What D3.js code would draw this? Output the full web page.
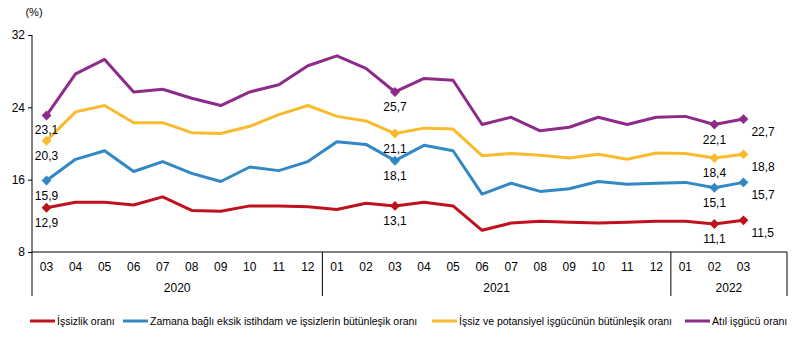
<!DOCTYPE html>
<html><head><meta charset="utf-8">
<script src="https://cdn.jsdelivr.net/npm/d3@7"></script>
<style>body{margin:0;background:#fff}svg{display:block;font-family:"Liberation Sans",Arial,sans-serif}</style>
</head><body>
<svg id="c" width="803" height="342"></svg>
<script>
const months = ["03","04","05","06","07","08","09","10","11","12","01","02","03","04","05","06","07","08","09","10","11","12","01","02","03"];
const years = [{label:"2020", from:0, to:9},{label:"2021", from:10, to:21},{label:"2022", from:22, to:24}];
const yTicks = [8,16,24,32];
const issizlik = [12.9,13.5,13.5,13.2,14.1,12.6,12.5,13.1,13.1,13.0,12.7,13.4,13.1,13.5,13.1,10.4,11.2,11.4,11.3,11.2,11.3,11.4,11.4,11.1,11.5];
const zamana = [15.9,18.25,19.2,16.9,18.0,16.7,15.8,17.4,17.0,18.0,20.2,19.9,18.1,19.8,19.2,14.4,15.6,14.7,15.0,15.8,15.5,15.6,15.7,15.1,15.7];
const potansiyel = [20.3,23.5,24.2,22.3,22.3,21.2,21.1,21.9,23.2,24.2,23.0,22.5,21.1,21.7,21.6,18.65,18.9,18.7,18.4,18.8,18.25,18.95,18.9,18.4,18.8];
const atil = [23.1,27.7,29.3,25.7,26.0,25.0,24.2,25.7,26.5,28.6,29.7,28.3,25.7,27.2,27.0,22.1,22.9,21.4,21.8,22.9,22.1,22.9,23.0,22.1,22.7];
const seriesNames = ["İşsizlik oranı","Zamana bağlı eksik istihdam ve işsizlerin bütünleşik oranı","İşsiz ve potansiyel işgücünün bütünleşik oranı","Atıl işgücü oranı"];
const seriesColors = ["#C0121C","#3288C4","#F8BB2E","#8E2A8A"];
const markedIdx = [0,12,23,24];

const series = [issizlik, zamana, potansiyel, atil];
const svg = d3.select("#c");
const x = d3.scaleLinear().domain([-0.5, 25.5]).range([32, 787]);
const y = d3.scaleLinear().domain([8, 32]).range([252, 35]);

// y axis
const yAx = svg.append("g").attr("transform","translate(32,0)")
  .call(d3.axisLeft(y).tickValues(yTicks).tickSize(4).tickPadding(3));
yAx.select(".domain").attr("stroke","#000").attr("d","M0,35V252");
yAx.selectAll(".tick line").attr("stroke","#000");
yAx.selectAll("text").attr("font-size",12).attr("fill","#000");

svg.append("text").attr("x",34).attr("y",16).attr("text-anchor","middle").attr("font-size",11).text("(%)");

// x axis
svg.append("line").attr("x1",32).attr("x2",787).attr("y1",252).attr("y2",252).attr("stroke","#000");
const bounds = [-0.5, 9.5, 21.5, 25.5];
svg.selectAll(".sep").data(bounds).join("line")
  .attr("x1",d=>x(d)).attr("x2",d=>x(d)).attr("y1",252).attr("y2",296).attr("stroke","#000");
svg.selectAll(".mlab").data(months).join("text")
  .attr("x",(d,i)=>x(i)).attr("y",271).attr("text-anchor","middle").attr("font-size",12).text(d=>d);
svg.selectAll(".ylab").data(years).join("text")
  .attr("x",d=>(x(d.from-0.5)+x(d.to===24?25.5:d.to+0.5))/2).attr("y",292).attr("text-anchor","middle").attr("font-size",12).text(d=>d.label);

// lines
const line = d3.line().x((d,i)=>x(i)).y(d=>y(d));
series.forEach((s,k)=>{
  svg.append("path").attr("d",line(s)).attr("fill","none").attr("stroke",seriesColors[k]).attr("stroke-width",3).attr("stroke-linejoin","round");
  svg.selectAll(null).data(markedIdx).join("path")
    .attr("transform",i=>`translate(${x(i)},${y(s[i])}) rotate(45)`)
    .attr("d","M-3.5,-3.5H3.5V3.5H-3.5Z").attr("fill",seriesColors[k]);
  svg.selectAll(null).data(markedIdx).join("text")
    .attr("x",i=> i===24 ? x(i)+8 : x(i))
    .attr("y",i=> i===24 ? y(s[i])+17 : y(s[i])+19)
    .attr("text-anchor",i=> i===24 ? "start" : "middle")
    .attr("font-size",12).attr("fill","#000")
    .text(i=>String(s[i].toFixed(1)).replace(".",","));
});

// legend
const legX = [30, 123, 432, 685];
seriesNames.forEach((n,k)=>{
  svg.append("line").attr("x1",legX[k]).attr("x2",legX[k]+25).attr("y1",321).attr("y2",321).attr("stroke",seriesColors[k]).attr("stroke-width",3);
  svg.append("text").attr("x",legX[k]+27).attr("y",325).attr("font-size",10.5).attr("fill","#000").text(n);
});
</script>
</body></html>
